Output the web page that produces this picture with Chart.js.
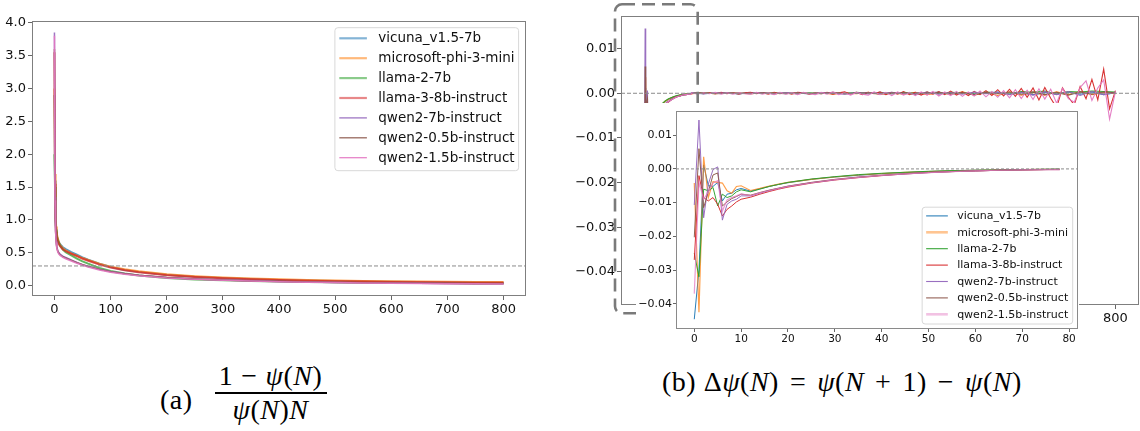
<!DOCTYPE html>
<html><head><meta charset="utf-8">
<script src="https://cdn.jsdelivr.net/npm/chart.js@4.4.0/dist/chart.umd.min.js"></script>
<style>
html,body{margin:0;padding:0;background:#fff;width:1140px;height:431px;overflow:hidden;position:relative;}
canvas{position:absolute;}
#cA{left:0;top:0;}
#cB{left:560px;top:0;}
#cC{left:636px;top:103px;}
.cap{position:absolute;font-family:"Liberation Serif","DejaVu Serif",serif;font-size:28px;color:#000;white-space:nowrap;letter-spacing:0.5px;}
.frac{display:inline-flex;flex-direction:column;align-items:center;vertical-align:middle;}
.num{padding:0 3px 1px;line-height:30px;}
.den{border-top:2px solid #000;padding:1px 18px 0;line-height:30px;}
.op{margin:0 11px;}
.opn{margin:0 8px;}
</style></head><body>
<canvas id="cA" width="535" height="330"></canvas>
<canvas id="cB" width="580" height="331"></canvas>
<canvas id="cC" width="443" height="244"></canvas>
<div class="cap" id="capA" style="left:160px;top:361px;display:flex;align-items:center;">
  <span style="margin-top:14px;">(a)</span>
  <span class="frac" style="margin-left:22px;">
    <span class="num">1<span class="opn">−</span><i>ψ</i>(<i>N</i>)</span>
    <span class="den"><i>ψ</i>(<i>N</i>)<i>N</i></span>
  </span>
</div>
<div class="cap" id="capB" style="left:662px;top:366px;">(b) Δ<i>ψ</i>(<i>N</i>)<span class="op">=</span><i>ψ</i>(<i>N</i><span class="op">+</span>1)<span class="op">−</span><i>ψ</i>(<i>N</i>)</div>
<script>
// ---------------- data ----------------
const MODEL_NAMES = ['vicuna_v1.5-7b','microsoft-phi-3-mini','llama-2-7b','llama-3-8b-instruct','qwen2-7b-instruct','qwen2-0.5b-instruct','qwen2-1.5b-instruct'];
const MODEL_COLORS = ['#1f77b4','#ff7f0e','#2ca02c','#d62728','#9467bd','#8c564b','#e377c2'];

// (a) (1-psi)/(psi N)
const N_LEFT = [0,1,2,3,4,6,8,10,15,20,30,40,50,60,80,100,125,150,200,250,300,350,400,450,500,550,600,650,700,750,800];
const ratioVicuna = [2.9,1.6,1.05,0.86,0.77,0.70,0.66,0.63,0.585,0.555,0.51,0.47,0.43,0.395,0.335,0.285,0.24,0.21,0.165,0.135,0.115,0.10,0.088,0.078,0.071,0.065,0.059,0.055,0.051,0.047,0.044];
const ratioPhi3 = [3.0,1.7,1.1,0.9,0.8,0.72,0.66,0.62,0.57,0.535,0.49,0.455,0.42,0.39,0.335,0.29,0.25,0.22,0.175,0.145,0.123,0.108,0.096,0.086,0.078,0.072,0.067,0.063,0.06,0.057,0.055];
const ratioLlama2 = [2.0,1.5,1.0,0.84,0.76,0.69,0.65,0.61,0.55,0.51,0.46,0.41,0.37,0.335,0.27,0.225,0.185,0.155,0.115,0.095,0.082,0.072,0.064,0.057,0.052,0.048,0.045,0.042,0.04,0.038,0.036];
const ratioLlama3 = [3.55,1.55,1.0,0.82,0.74,0.67,0.63,0.6,0.55,0.525,0.485,0.45,0.41,0.38,0.32,0.275,0.235,0.205,0.16,0.132,0.112,0.097,0.085,0.076,0.068,0.062,0.057,0.053,0.049,0.046,0.043];
const ratioQwen7b = [3.85,1.35,0.85,0.68,0.6,0.53,0.5,0.48,0.45,0.43,0.39,0.355,0.32,0.295,0.25,0.215,0.185,0.16,0.125,0.102,0.086,0.074,0.064,0.056,0.05,0.045,0.041,0.037,0.034,0.031,0.029];
const ratioQwen05b = [3.6,1.3,0.83,0.67,0.59,0.52,0.49,0.47,0.44,0.42,0.385,0.35,0.318,0.292,0.248,0.213,0.183,0.158,0.123,0.1,0.085,0.073,0.063,0.055,0.049,0.044,0.04,0.036,0.033,0.03,0.028];
const ratioQwen15b = [3.8,1.3,0.82,0.66,0.58,0.51,0.48,0.46,0.43,0.41,0.375,0.34,0.31,0.285,0.24,0.205,0.175,0.152,0.118,0.096,0.081,0.07,0.06,0.053,0.047,0.042,0.038,0.034,0.031,0.028,0.026];
const LEFT_REF = 0.3;
const LEFT_X_TICKS = [0,100,200,300,400,500,600,700,800];
const LEFT_Y_TICKS = [0,0.5,1,1.5,2,2.5,3,3.5,4];

// (b) delta psi, early part (also the inset)
const N_EARLY = [0,1,2,3,4,5,6,7,8,9,10,12,14,16,18,20,25,30,35,40,45,50,55,60,65,70,75,78];
const dVicunaEarly = [-0.0446,-0.030,0.0012,-0.0050,-0.0052,-0.0040,-0.0095,-0.0075,-0.0072,-0.0062,-0.0058,-0.0066,-0.0059,-0.0052,-0.0046,-0.0041,-0.0031,-0.0024,-0.0019,-0.0014,-0.0011,-0.0008,-0.0006,-0.0004,-0.0003,-0.0002,-0.00015,-0.0001];
const dPhi3Early = [-0.0042,-0.0425,0.0036,-0.0085,-0.0038,-0.0040,-0.0042,-0.0065,-0.0072,-0.0052,-0.0050,-0.0064,-0.0058,-0.0051,-0.0045,-0.0040,-0.0031,-0.0024,-0.0018,-0.0014,-0.0010,-0.0008,-0.0006,-0.0004,-0.0003,-0.0002,-0.00015,-0.0001];
const dLlama2Early = [-0.0250,-0.0320,-0.0060,-0.0065,-0.0055,-0.0110,-0.0075,-0.0085,-0.0080,-0.0068,-0.0062,-0.0068,-0.0060,-0.0052,-0.0046,-0.0040,-0.0030,-0.0023,-0.0017,-0.0013,-0.0010,-0.0007,-0.0005,-0.0004,-0.0003,-0.0002,-0.0001,-0.0001];
const dLlama3Early = [-0.0270,-0.0020,-0.0085,-0.0095,-0.0085,-0.0105,-0.0140,-0.0120,-0.0110,-0.0098,-0.0090,-0.0084,-0.0075,-0.0067,-0.0060,-0.0054,-0.0042,-0.0033,-0.0026,-0.0020,-0.0015,-0.0011,-0.0008,-0.0006,-0.0004,-0.0003,-0.0002,-0.0002];
const dQwen7bEarly = [-0.0107,0.0145,-0.0145,-0.0045,-0.0002,0.0006,-0.0152,-0.0105,-0.0095,-0.0090,-0.0080,-0.0080,-0.0072,-0.0064,-0.0058,-0.0052,-0.0041,-0.0032,-0.0025,-0.0019,-0.0015,-0.0011,-0.0008,-0.0006,-0.0004,-0.0003,-0.0002,-0.0002];
const dQwen05bEarly = [-0.0203,0.0060,-0.0115,-0.0068,-0.0018,-0.0012,-0.0110,-0.0098,-0.0088,-0.0082,-0.0075,-0.0078,-0.0070,-0.0063,-0.0057,-0.0051,-0.0040,-0.0031,-0.0024,-0.0019,-0.0014,-0.0010,-0.0008,-0.0006,-0.0004,-0.0003,-0.0002,-0.0001];
const dQwen15bEarly = [-0.0370,-0.0040,-0.0090,-0.0068,-0.0042,-0.0035,-0.0125,-0.0092,-0.0085,-0.0080,-0.0074,-0.0079,-0.0071,-0.0064,-0.0058,-0.0052,-0.0041,-0.0032,-0.0025,-0.0019,-0.0015,-0.0011,-0.0008,-0.0006,-0.0004,-0.0003,-0.0002,-0.0002];

// (b) tail noise, sparse sampling for the quiet series
const N_TAIL_SPARSE = [80,100,120,140,160,180,200,220,240,260,280,300,320,340,360,380,400,420,440,460,480,500,520,540,560,580,600,620,640,660,680,700,720,740,760,780,800];
const dVicunaTail = [0.0001,-0.0001,0.0001,0,-0.0001,0.0001,0,-0.0001,0.0001,0,-0.0001,0.0001,-0.0001,0.0001,0,-0.0001,0.0002,-0.0001,0.0001,-0.0002,0.0001,0.0002,-0.0001,0.0002,-0.0002,0.0001,0.0003,-0.0002,0.0002,-0.0003,0.0002,-0.0002,0.0003,-0.0002,0.0003,-0.0003,0.0001];
const dPhi3Tail = [-0.0001,0.0001,-0.0001,0.0001,0,-0.0001,0.0001,-0.0001,0,0.0001,-0.0001,0.0001,-0.0002,0.0001,-0.0001,0.0002,-0.0002,0.0001,-0.0002,0.0002,-0.0003,0.0001,-0.0002,0.0003,-0.0004,0.0002,-0.0005,0.0003,-0.0004,0.0002,-0.0004,0.0003,-0.0003,0.0004,-0.0003,0.0002,-0.0001];
const dLlama2Tail = [0,0.0001,0,0.0001,-0.0001,0.0001,0,0.0001,0,-0.0001,0.0001,0,0.0001,-0.0001,0.0002,0,0.0001,-0.0001,0.0002,0,0.0002,-0.0001,0.0002,0.0001,-0.0002,0.0003,0.0001,-0.0002,0.0004,0.0002,0.0005,-0.0002,0.0004,0.0003,0.0005,0.0004,0.0003];
const dQwen7bTail = [0.0001,-0.0001,0,0.0001,-0.0001,0,0.0001,-0.0001,0.0001,0,-0.0001,0.0001,0,-0.0002,0.0001,0.0001,-0.0001,0.0002,-0.0001,0,0.0002,-0.0002,0.0001,-0.0002,0.0003,-0.0001,0.0002,-0.0003,0.0002,-0.0004,0.0003,-0.0003,0.0004,-0.0005,0.0004,-0.0003,0.0002];
const dQwen05bTail = [0,0.0001,-0.0001,0,0.0001,-0.0001,0.0001,0,-0.0001,0.0001,0,-0.0001,0.0002,-0.0001,0,0.0001,-0.0002,0.0001,0.0001,-0.0002,0.0001,0.0002,-0.0002,0.0001,-0.0003,0.0002,-0.0001,0.0003,-0.0002,0.0003,-0.0003,0.0002,-0.0004,0.0003,-0.0002,0.0003,0.0001];

// (b) tail noise, denser sampling for the two noisy series
const N_TAIL_DENSE = [80,90,100,110,120,130,140,150,160,170,180,190,200,210,220,230,240,250,260,270,280,290,300,310,320,330,340,350,360,370,380,390,400,410,420,430,440,450,460,470,480,490,500,510,520,530,540,550,560,570,580,590,600,610,620,630,640,650,660,670,680,690,700,710,720,730,740,750,760,770,780,790,800];
const dLlama3Tail = [-0.0001,0.0001,-0.0001,0.0001,-0.0001,0.0002,-0.0001,0.0001,-0.0002,0.0001,
  0.0002,-0.0001,0.0001,-0.0002,0.0002,-0.0001,0.0001,-0.0002,0.0002,0.0001,
  -0.0002,0.0001,-0.0001,0.0002,-0.0002,0.0001,0.0003,-0.0002,0.0002,-0.0003,
  0.0002,-0.0001,0.0003,-0.0003,0.0002,-0.0002,0.0004,-0.0003,0.0002,-0.0004,
  0.0003,-0.0002,0.0004,-0.0003,0.0005,-0.0004,0.0003,-0.0005,0.0004,-0.0003,
  0.0006,-0.0005,0.0008,-0.0006,0.0009,-0.0007,0.0011,-0.0009,0.0012,-0.0015,
  0.0013,-0.0011,-0.0032,0.0012,-0.0009,-0.0026,0.0015,-0.0012,0.0031,-0.0015,
  0.0054,-0.0035,0.0006];
const dQwen15bTail = [0.0001,-0.0002,0.0001,-0.0001,0.0002,-0.0002,0.0001,-0.0002,0.0001,-0.0001,
  -0.0002,0.0002,-0.0002,0.0001,-0.0003,0.0002,-0.0002,0.0001,-0.0003,0.0002,
  -0.0001,-0.0003,0.0002,-0.0002,0.0003,-0.0003,0.0001,-0.0004,0.0002,-0.0002,
  -0.0004,0.0003,-0.0003,0.0002,-0.0005,0.0003,-0.0004,0.0002,-0.0005,0.0003,
  -0.0004,0.0004,-0.0006,0.0003,-0.0005,0.0004,-0.0007,0.0003,-0.0006,0.0005,
  -0.0008,0.0004,-0.0009,0.0006,-0.0010,0.0008,-0.0012,0.0007,-0.0014,0.0010,
  -0.0013,0.0009,-0.0022,0.0011,-0.0012,-0.0020,0.0013,0.0028,-0.0016,0.0012,
  0.0030,-0.0058,0.0004];

const DELTA_REF = 0;
const MAIN_X_TICKS = [0,100,200,300,400,500,600,700,800];
const DELTA_Y_TICKS = [-0.04,-0.03,-0.02,-0.01,0,0.01];
const INSET_X_TICKS = [0,10,20,30,40,50,60,70,80];

// ---------------- helpers ----------------
function rgba(hex,a){const n=parseInt(hex.slice(1),16);return 'rgba('+((n>>16)&255)+','+((n>>8)&255)+','+(n&255)+','+a+')';}
function fmt(v,d){ if(Math.abs(v)<1e-12) return (0).toFixed(d); return v.toFixed(d).replace('-','\u2212'); }
function pts(xs,ys){ return xs.map((x,i)=>({x:x,y:ys[i]})); }
const FONT = '"DejaVu Sans", "Liberation Sans", sans-serif';

function axis(min,max,tickVals,digits,fontSize,tickLen,pad,fitProp,fitVal){
  return {type:'linear',min:min,max:max,
    afterBuildTicks:s=>{s.ticks=tickVals.map(v=>({value:v}));},
    afterFit:s=>{s[fitProp]=fitVal;},
    grid:{drawOnChartArea:false,drawTicks:true,tickLength:tickLen,color:'#666',lineWidth:1},
    border:{display:false},
    ticks:{font:{family:FONT,size:fontSize},color:'#111',padding:pad,autoSkip:false,maxRotation:0,
      callback:v=>digits===null?String(v):fmt(v,digits)}};
}

const framePlugin = {
  id:'frame',
  beforeDraw(chart,args,o){
    if(o.bg){const c=chart.ctx;c.save();c.fillStyle=o.bg;c.fillRect(0,0,chart.width,chart.height);c.restore();}
  },
  afterDatasetsDraw(chart,args,o){
    if(o.refY===undefined) return;
    const c=chart.ctx, ca=chart.chartArea, y=chart.scales.y.getPixelForValue(o.refY);
    c.save(); c.strokeStyle=o.refColor||'#888'; c.lineWidth=1; c.setLineDash(o.refDash||[4,2]);
    c.beginPath(); c.moveTo(ca.left,y); c.lineTo(ca.right,y); c.stroke(); c.restore();
  },
  afterDraw(chart,args,o){
    const c=chart.ctx, ca=chart.chartArea;
    c.save(); c.strokeStyle=o.color||'#7f7f7f'; c.lineWidth=1;
    c.strokeRect(Math.round(ca.left)+0.5,Math.round(ca.top)+0.5,Math.round(ca.right-ca.left)-1,Math.round(ca.bottom-ca.top)-1);
    c.restore();
    if(o.zoomBox){
      const b=o.zoomBox, L=ca.left+b.dl, T=ca.top+b.dt, R=ca.left+b.dr, B=ca.bottom+b.db, r=b.r;
      c.save(); c.strokeStyle=b.color; c.lineWidth=b.width; c.setLineDash(b.dash);
      c.beginPath();
      c.moveTo(L+r,T); c.lineTo(R-r,T); c.arcTo(R,T,R,T+r,r); c.lineTo(R,B-r); c.arcTo(R,B,R-r,B,r);
      c.lineTo(L+r,B); c.arcTo(L,B,L,B-r,r); c.lineTo(L,T+r); c.arcTo(L,T,L+r,T,r); c.closePath();
      c.stroke(); c.restore();
    }
  }
};

const boxLegend = {
  id:'boxLegend',
  afterDraw(chart,args,o){
    if(!o.show) return;
    const c=chart.ctx, ca=chart.chartArea, ds=chart.data.datasets;
    c.save();
    c.font=o.fontSize+'px '+FONT;
    const tw=Math.max.apply(null,ds.map(d=>c.measureText(d.label).width));
    const w=o.padL+o.lineLen+o.gap+tw+o.padR;
    const h=o.firstRow+o.rowH*(ds.length-1)+o.lastPad;
    const right=ca.right-o.marginR;
    const left=right-w;
    const top=(o.marginT!==undefined)?ca.top+o.marginT:ca.bottom-o.marginB-h;
    const r=3;
    c.beginPath();
    c.moveTo(left+r,top); c.lineTo(right-r,top); c.arcTo(right,top,right,top+r,r);
    c.lineTo(right,top+h-r); c.arcTo(right,top+h,right-r,top+h,r);
    c.lineTo(left+r,top+h); c.arcTo(left,top+h,left,top+h-r,r);
    c.lineTo(left,top+r); c.arcTo(left,top,left+r,top,r); c.closePath();
    c.fillStyle='rgba(255,255,255,0.85)'; c.fill();
    c.strokeStyle='#d8d8d8'; c.lineWidth=1; c.stroke();
    ds.forEach((d,i)=>{
      const y=top+o.firstRow+o.rowH*i;
      c.strokeStyle=d.legendColor||d.borderColor; c.lineWidth=d.legendWidth||d.borderWidth;
      c.beginPath(); c.moveTo(left+o.padL,y); c.lineTo(left+o.padL+o.lineLen,y); c.stroke();
      c.fillStyle='#111'; c.textBaseline='middle'; c.textAlign='left';
      c.fillText(d.label,left+o.padL+o.lineLen+o.gap,y+0.5);
    });
    c.restore();
  }
};

function lineDs(i,data,width,alpha,legendWidth,legendAlpha){
  return {label:MODEL_NAMES[i],data:data,borderColor:rgba(MODEL_COLORS[i],alpha),borderWidth:width,
    legendColor:rgba(MODEL_COLORS[i],legendAlpha),legendWidth:legendWidth,
    pointRadius:0,tension:0,fill:false,order:7-i};
}
const baseOpts = {responsive:false,animation:false,devicePixelRatio:1,events:[]};

// ---------------- chart (a) ----------------
const leftSeries=[ratioVicuna,ratioPhi3,ratioLlama2,ratioLlama3,ratioQwen7b,ratioQwen05b,ratioQwen15b];
new Chart(document.getElementById('cA'),{
  type:'line',
  data:{datasets:leftSeries.map((s,i)=>lineDs(i,pts(N_LEFT,s),i<4?2:1.5,i<4?0.75:0.9,i<4?2.2:1.3,i<4?0.55:0.9))},
  options:Object.assign({},baseOpts,{
    layout:{padding:{left:0,right:9,top:21,bottom:0}},
    plugins:{legend:{display:false},tooltip:{enabled:false},
      frame:{refY:LEFT_REF,refColor:'#8a8a8a',refDash:[4,2]},
      boxLegend:{show:true,fontSize:13.5,padL:4.4,lineLen:27.6,gap:11.4,padR:4,firstRow:10.6,rowH:19.9,lastPad:13,marginR:7.4,marginT:6.7}},
    scales:{
      x:axis(-40,840,LEFT_X_TICKS,null,13,4,2,'height',34),
      y:axis(-0.157,4.026,LEFT_Y_TICKS,1,13,4,2,'width',32)
    }
  }),
  plugins:[framePlugin,boxLegend]
});

// ---------------- chart (b) main ----------------
const earlySeries=[dVicunaEarly,dPhi3Early,dLlama2Early,dLlama3Early,dQwen7bEarly,dQwen05bEarly,dQwen15bEarly];
const tailSeries=[
  [N_TAIL_SPARSE,dVicunaTail],[N_TAIL_SPARSE,dPhi3Tail],[N_TAIL_SPARSE,dLlama2Tail],[N_TAIL_DENSE,dLlama3Tail],
  [N_TAIL_SPARSE,dQwen7bTail],[N_TAIL_SPARSE,dQwen05bTail],[N_TAIL_DENSE,dQwen15bTail]];
new Chart(document.getElementById('cB'),{
  type:'line',
  data:{datasets:earlySeries.map((s,i)=>lineDs(i,pts(N_EARLY,s).concat(pts(tailSeries[i][0],tailSeries[i][1])),1.1,0.95,1,1))},
  options:Object.assign({},baseOpts,{
    layout:{padding:{left:0,right:1,top:16,bottom:0}},
    plugins:{legend:{display:false},tooltip:{enabled:false},
      frame:{refY:DELTA_REF,refColor:'#8a8a8a',refDash:[4,2],
        zoomBox:{dl:-6,dt:-11.7,dr:76.7,db:8.3,r:7,color:'#7a7a7a',width:2.6,dash:[13,7]}},
      boxLegend:{show:false}},
    scales:{
      x:axis(-40,840,MAIN_X_TICKS,null,13,4,2,'height',26),
      y:axis(-0.0474,0.0173,DELTA_Y_TICKS,2,13,4,2,'width',61)
    }
  }),
  plugins:[framePlugin,boxLegend]
});

// ---------------- inset ----------------
new Chart(document.getElementById('cC'),{
  type:'line',
  data:{datasets:earlySeries.map((s,i)=>lineDs(i,pts(N_EARLY,s),(i===1||i===6)?1.2:1,(i===1||i===6)?0.75:0.95,(i===1||i===6)?2.6:1.1,(i===1||i===6)?0.45:0.95))},
  options:Object.assign({},baseOpts,{
    layout:{padding:{left:0,right:1,top:1,bottom:0}},
    plugins:{legend:{display:false},tooltip:{enabled:false},
      frame:{bg:'#ffffff',refY:DELTA_REF,refColor:'#8a8a8a',refDash:[3,2],color:'#8a8a8a'},
      boxLegend:{show:true,fontSize:11,padL:4,lineLen:21.7,gap:9.3,padR:4.5,firstRow:8.7,rowH:16.4,lastPad:9.7,marginR:5.3,marginB:5}},
    scales:{
      x:axis(-3.9,81.9,INSET_X_TICKS,null,10.5,3,1,'height',18),
      y:axis(-0.0475,0.0173,DELTA_Y_TICKS,2,11,3,1,'width',40)
    }
  }),
  plugins:[framePlugin,boxLegend]
});
</script>
</body></html>
